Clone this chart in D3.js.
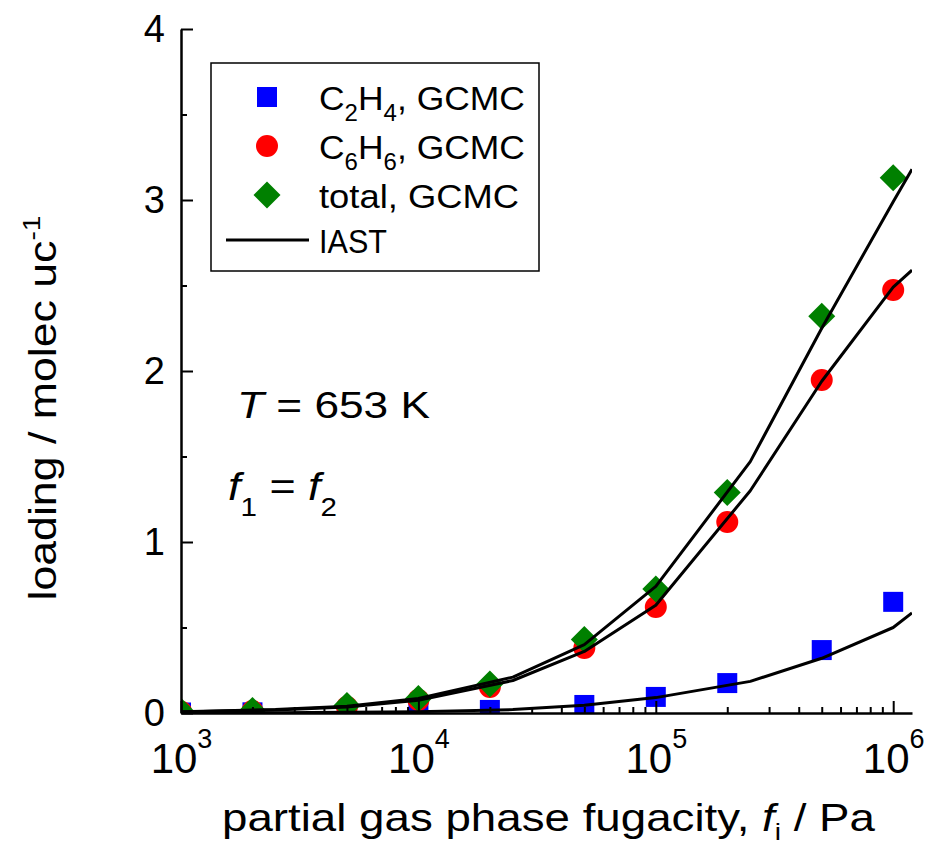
<!DOCTYPE html>
<html>
<head>
<meta charset="utf-8">
<script src="https://cdn.jsdelivr.net/npm/d3@7"></script>
<style>
  body { margin: 0; background: #fff; }
  svg { display: block; }
  text { font-family: "Liberation Sans", Arial, sans-serif; fill: #000; }
</style>
</head>
<body>
<svg id="chart" width="941" height="845"></svg>
<script>
// GCMC simulation points: partial fugacity (Pa) and loading (molecules per unit cell)
const fugacity   = [1e3, 2e3, 5e3, 1e4, 2e4, 5e4, 1e5, 2e5, 5e5, 1e6];
const c2h4GCMC   = [0.003, 0.004, 0.005, 0.008, 0.018, 0.047, 0.094, 0.175, 0.368, 0.65];
const c6h6GCMC   = [0.008, 0.012, 0.035, 0.076, 0.152, 0.38, 0.62, 1.117, 1.947, 2.474];
const totalGCMC  = [0.01, 0.015, 0.044, 0.085, 0.17, 0.43, 0.725, 1.29, 2.32, 3.13];

// IAST predictions
const iastFugacity = [1e3, 2.5e3, 5e3, 1e4, 2.5e4, 5e4, 1e5, 2.5e5, 5e5, 1e6, 1.2e6];
const c2h4IAST     = [0.001, 0.002, 0.004, 0.008, 0.02, 0.045, 0.09, 0.185, 0.32, 0.50, 0.585];
const c6h6IAST     = [0.006, 0.018, 0.035, 0.075, 0.19, 0.36, 0.63, 1.30, 1.94, 2.49, 2.59];
const totalIAST    = [0.008, 0.02, 0.04, 0.085, 0.21, 0.40, 0.74, 1.47, 2.25, 2.99, 3.18];

// Axis ticks
const yMajorTicks = [0, 1, 2, 3, 4];
const yMinorTicks = [0.5, 1.5, 2.5, 3.5];
const xMajorExponents = [3, 4, 5, 6];

const legendLabels = [
  { kind: "square",  parts: [["C"], ["2", "sub"], ["H"], ["4", "sub"], [", GCMC"]] },
  { kind: "circle",  parts: [["C"], ["6", "sub"], ["H"], ["6", "sub"], [", GCMC"]] },
  { kind: "diamond", parts: [["total, GCMC"]] },
  { kind: "line",    parts: [["IAST"]] }
];

const colors = { square: "#0000ff", circle: "#ff0000", diamond: "#008000" };

const svg = d3.select("#chart");
const plotLeft = 181, plotRight = 912, plotTop = 29, plotBottom = 713;

const x = d3.scaleLog().domain([1e3, 1.2e6]).range([plotLeft, plotRight]);
const y = d3.scaleLinear().domain([0, 4]).range([plotBottom, plotTop]);

svg.append("defs").append("clipPath").attr("id", "plotClip")
  .append("rect").attr("x", plotLeft).attr("y", plotTop)
  .attr("width", plotRight - plotLeft).attr("height", plotBottom - plotTop);

const symbolPath = {
  square: d3.symbol().type(d3.symbolSquare).size(400)(),
  circle: d3.symbol().type(d3.symbolCircle).size(380)(),
  diamond: d3.symbol().type(d3.symbolSquare).size(365)()
};
function drawSymbol(g, kind, cx, cy) {
  g.append("path")
    .attr("d", symbolPath[kind])
    .attr("fill", colors[kind])
    .attr("transform", `translate(${cx},${cy})` + (kind === "diamond" ? " rotate(45)" : ""));
}

// Markers
const plot = svg.append("g").attr("clip-path", "url(#plotClip)");
[["square", c2h4GCMC], ["circle", c6h6GCMC], ["diamond", totalGCMC]].forEach(([kind, vals]) => {
  const g = plot.append("g");
  vals.forEach((v, i) => drawSymbol(g, kind, x(fugacity[i]), y(v)));
});

// IAST curves
const line = d3.line().x(d => x(d[0])).y(d => y(d[1]));
[c2h4IAST, c6h6IAST, totalIAST].forEach(vals => {
  plot.append("path")
    .datum(iastFugacity.map((f, i) => [f, vals[i]]))
    .attr("d", line)
    .attr("fill", "none")
    .attr("stroke", "#000")
    .attr("stroke-width", 3)
    .attr("stroke-linejoin", "round");
});

// Y axis
const yAxis = svg.append("g").attr("transform", `translate(${plotLeft},0)`)
  .call(d3.axisLeft(y).tickValues(yMajorTicks).tickSize(-12).tickSizeOuter(0)
    .tickPadding(16).tickFormat(d3.format("d")));
yAxis.select(".domain").attr("stroke-width", 2.5);
yAxis.selectAll(".tick line").attr("stroke-width", 2);
yAxis.selectAll(".tick text").attr("font-size", 38);
yAxis.attr("font-family", null).attr("font-size", null);
svg.append("g").attr("transform", `translate(${plotLeft},0)`)
  .call(d3.axisLeft(y).tickValues(yMinorTicks).tickSize(-6).tickSizeOuter(0).tickFormat(""))
  .call(g => g.select(".domain").remove())
  .selectAll(".tick line").attr("stroke-width", 2);

// X axis
const xMinor = [];
for (let e = 3; e <= 6; e++) for (let m = 2; m <= 9; m++) {
  const v = m * Math.pow(10, e);
  if (v <= 1.2e6) xMinor.push(v);
}
const xAxis = svg.append("g").attr("transform", `translate(0,${plotBottom})`)
  .call(d3.axisBottom(x).tickValues(xMajorExponents.map(e => Math.pow(10, e)))
    .tickSize(-12).tickSizeOuter(0).tickFormat(""));
xAxis.attr("font-family", null).attr("font-size", null);
xAxis.select(".domain").attr("stroke-width", 2.5);
xAxis.selectAll(".tick line").attr("stroke-width", 2);
xAxis.selectAll(".tick text").remove();
xAxis.selectAll(".tick").each(function (d) {
  const t = d3.select(this).append("text")
    .attr("y", 60).attr("text-anchor", "middle").attr("font-size", 42);
  t.append("tspan").text("10");
  t.append("tspan").attr("dy", -25).attr("font-size", 27).text(Math.round(Math.log10(d)));
});
svg.append("g").attr("transform", `translate(0,${plotBottom})`)
  .call(d3.axisBottom(x).tickValues(xMinor).tickSize(-6).tickSizeOuter(0).tickFormat(""))
  .call(g => g.select(".domain").remove())
  .selectAll(".tick line").attr("stroke-width", 2);

// Axis titles
const yTitle = svg.append("text")
  .attr("transform", "translate(56,408) rotate(-90)")
  .attr("text-anchor", "middle").attr("font-size", 38)
  .attr("textLength", 385).attr("lengthAdjust", "spacingAndGlyphs");
yTitle.append("tspan").text("loading / molec uc");
yTitle.append("tspan").attr("dy", -16).attr("font-size", 24).text("-1");

const xTitle = svg.append("text").attr("x", 222).attr("y", 831).attr("font-size", 39)
  .attr("textLength", 653).attr("lengthAdjust", "spacingAndGlyphs");
xTitle.append("tspan").text("partial gas phase fugacity, ");
xTitle.append("tspan").attr("font-style", "italic").text("f");
xTitle.append("tspan").attr("dy", 9).attr("font-size", 24).text("i");
xTitle.append("tspan").attr("dy", -9).text(" / Pa");

// Conditions
const tText = svg.append("text").attr("x", 237).attr("y", 418).attr("font-size", 36)
  .attr("textLength", 193).attr("lengthAdjust", "spacingAndGlyphs");
tText.append("tspan").attr("font-style", "italic").text("T");
tText.append("tspan").text(" = 653 K");

const fText = svg.append("text").attr("x", 228).attr("y", 500).attr("font-size", 38)
  .attr("textLength", 109).attr("lengthAdjust", "spacingAndGlyphs");
fText.append("tspan").attr("font-style", "italic").text("f");
fText.append("tspan").attr("dy", 16).attr("font-size", 25).text("1");
fText.append("tspan").attr("dy", -16).text(" = ");
fText.append("tspan").attr("font-style", "italic").text("f");
fText.append("tspan").attr("dy", 16).attr("font-size", 25).text("2");

// Legend
const legend = svg.append("g");
legend.append("rect").attr("x", 211).attr("y", 63).attr("width", 328).attr("height", 208)
  .attr("fill", "#fff").attr("stroke", "#000").attr("stroke-width", 1.5);
const rowY = [97, 146, 195, 240];
const legendWidths = [206, 206, 200, 68];
legendLabels.forEach((item, i) => {
  const cy = rowY[i];
  if (item.kind === "line") {
    legend.append("line").attr("x1", 226).attr("x2", 309).attr("y1", cy).attr("y2", cy)
      .attr("stroke", "#000").attr("stroke-width", 3);
  } else {
    drawSymbol(legend, item.kind, 267, cy);
  }
  const t = legend.append("text").attr("x", 319).attr("y", cy + 13).attr("font-size", 34)
    .attr("textLength", legendWidths[i]).attr("lengthAdjust", "spacingAndGlyphs");
  let shifted = false;
  item.parts.forEach(([s, role]) => {
    const ts = t.append("tspan").text(s);
    if (role === "sub" && !shifted) { ts.attr("dy", 11).attr("font-size", 23); shifted = true; }
    else if (role === "sub") { ts.attr("font-size", 23); }
    else if (shifted) { ts.attr("dy", -11); shifted = false; }
  });
});
</script>
</body>
</html>
